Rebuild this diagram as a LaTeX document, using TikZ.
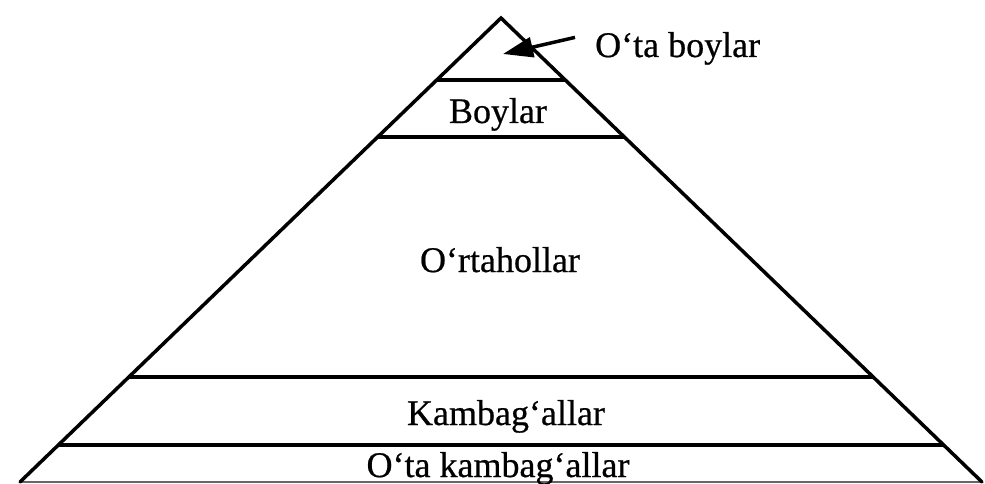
\documentclass[tikz,border=0pt]{standalone}
\usepackage{fontspec}
\setmainfont{Liberation Serif}
\newfontfamily\scanfont{Liberation Serif}[FakeBold=0.6]
\usetikzlibrary{calc,arrows.meta}
\tikzset{
  side/.style={line width=3.5pt, line join=miter, line cap=round},
  level/.style={line width=4.5pt},
  baseline line/.style={line width=1.5pt, black!60},
  lbl/.style={inner sep=0pt, anchor=base, font=\scanfont\fontsize{36}{40}\selectfont},
  pointer/.style={line width=3.5pt, -{Triangle[length=30pt,width=20pt]}}
}
\begin{document}
\begin{tikzpicture}[x=1pt,y=1pt]
\useasboundingbox (0,0) rectangle (985,-484);
\coordinate (A) at (501,-18);
\coordinate (L) at (20,-482);
\coordinate (R) at (982,-482);
% levels
\coordinate (l1a) at ($(A)!0.1336!(L)$); \coordinate (l1b) at ($(A)!0.1336!(R)$);
\coordinate (l2a) at ($(A)!0.2565!(L)$); \coordinate (l2b) at ($(A)!0.2565!(R)$);
\coordinate (l3a) at ($(A)!0.7737!(L)$); \coordinate (l3b) at ($(A)!0.7737!(R)$);
\coordinate (l4a) at ($(A)!0.9203!(L)$); \coordinate (l4b) at ($(A)!0.9203!(R)$);
\draw[baseline line] (L) -- (R);
\draw[level] (l1a) -- (l1b);
\draw[level] (l2a) -- (l2b);
\draw[level] (l3a) -- (l3b);
\draw[level] (l4a) -- (l4b);
\draw[side] (L) -- (A) -- (R);
% labels
\node[lbl] (boy) at (498,-123) {Boylar};
\node[lbl] (orta) at (500,-272) {O‘rtahollar};
\node[lbl] (kam) at (506,-425) {Kambag‘allar};
\node[lbl] (okam) at (498,-477) {O‘ta kambag‘allar};
\node[lbl, anchor=base west] (oboy) at (595,-57) {O‘ta boylar};
\coordinate (tip) at (503,-54);
\draw[pointer] ([xshift=-20pt,yshift=11pt]oboy.west) -- (tip);
\end{tikzpicture}
\end{document}
